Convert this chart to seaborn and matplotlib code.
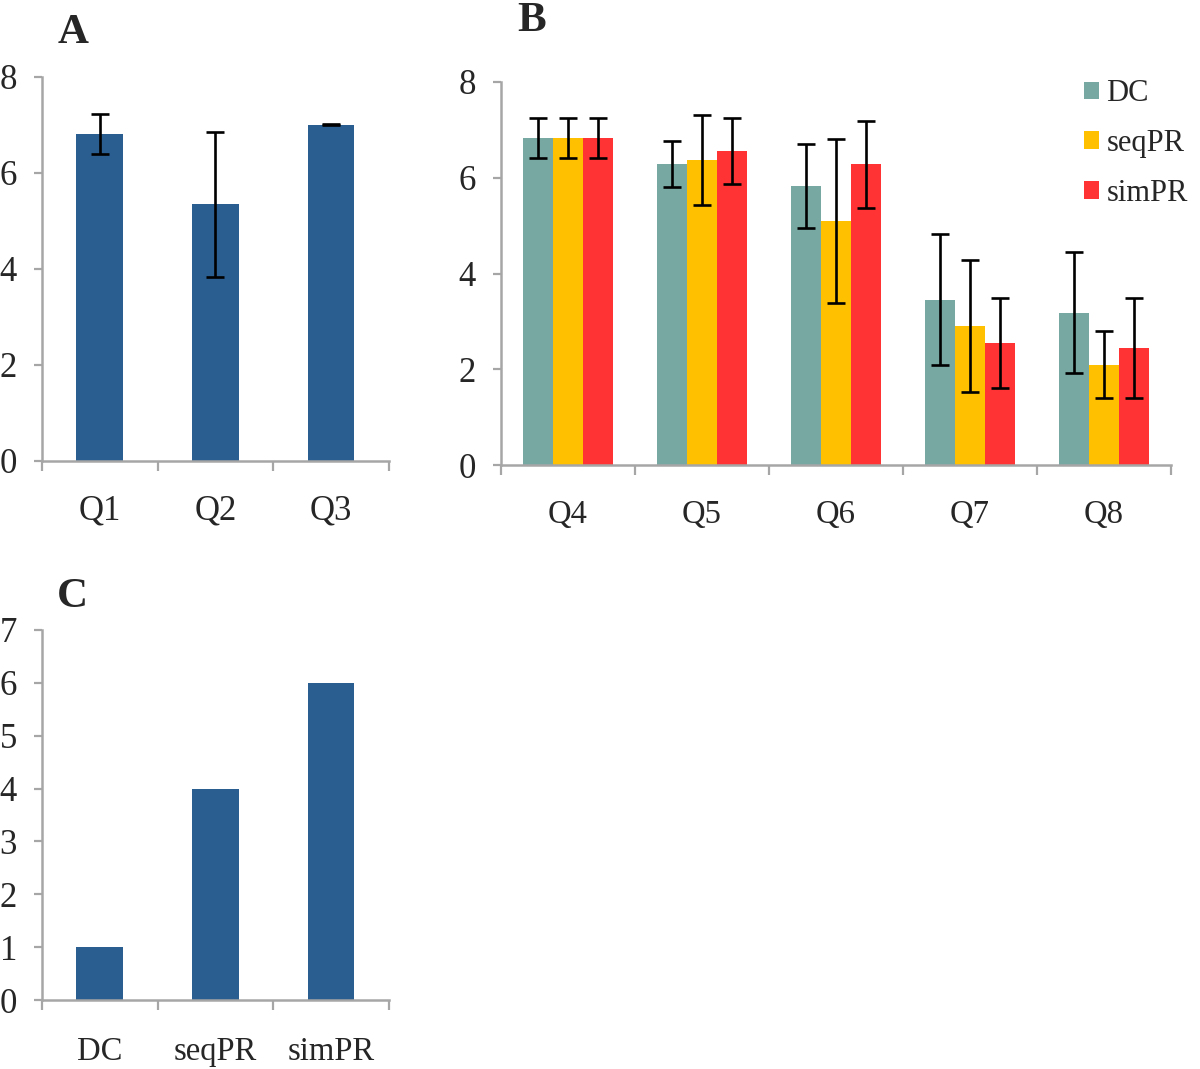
import numpy as np
import pandas as pd
import matplotlib
matplotlib.use("Agg")
import matplotlib.pyplot as plt
from matplotlib.patches import Patch
from matplotlib.ticker import FixedLocator
import seaborn as sns

# panel A
a_cats = ["Q1", "Q2", "Q3"]
a_vals = [6.81, 5.35, 7.0]
a_errs = [0.42, 1.51, 0.01]

# panel B
b_cats = ["Q4", "Q5", "Q6", "Q7", "Q8"]
b_groups = ["DC", "seqPR", "simPR"]
b_dc = [6.83, 6.28, 5.82, 3.45, 3.18]
b_seq = [6.83, 6.37, 5.09, 2.91, 2.09]
b_sim = [6.83, 6.55, 6.28, 2.54, 2.45]
b_dc_err = [0.41, 0.48, 0.88, 1.37, 1.26]
b_seq_err = [0.41, 0.94, 1.71, 1.38, 0.70]
b_sim_err = [0.41, 0.69, 0.91, 0.94, 1.04]

# panel C
c_cats = ["DC", "seqPR", "simPR"]
c_vals = [1, 4, 6]

blue = "#2A5E91"
b_colors = ["#77A8A2", "#FFC000", "#FF3333"]
gray = "#A6A6A6"

sns.set_style("white")
plt.rcParams["font.family"] = ["Liberation Serif", "DejaVu Serif"]

fig = plt.figure(figsize=(12, 10.69), dpi=100)
axA = fig.add_axes([0.035, 0.5688, 0.289, 0.3592])
axB = fig.add_axes([0.4175, 0.565, 0.5583, 0.3583])
axC = fig.add_axes([0.035, 0.0645, 0.289, 0.3462])


def style_axis(ax, n, ymax, step, xfs, yfs=25, xpad=24):
    ax.set_xlim(-0.5, n - 0.5)
    ax.set_ylim(0, ymax)
    ax.set_yticks(np.arange(0, ymax + 0.01, step))
    ax.xaxis.set_minor_locator(FixedLocator(np.arange(-0.5, n, 1.0)))
    ax.tick_params(axis="x", which="major", length=0, pad=xpad, labelsize=xfs)
    ax.tick_params(axis="x", which="minor", length=7.5, width=1.6,
                   color=gray, direction="out", bottom=True)
    ax.tick_params(axis="y", length=6, width=1.6, color=gray,
                   direction="out", pad=12, labelsize=yfs, left=True)
    for s in ["top", "right"]:
        ax.spines[s].set_visible(False)
    for s in ["left", "bottom"]:
        ax.spines[s].set_color(gray)
        ax.spines[s].set_linewidth(1.8)
    ax.set_xlabel("")
    ax.set_ylabel("")


def add_errors(ax, container, errs):
    xs = [p.get_x() + p.get_width() / 2 for p in container]
    ys = [p.get_height() for p in container]
    ax.errorbar(xs, ys, yerr=errs, fmt="none", ecolor="black",
                elinewidth=1.9, capsize=6.5, capthick=1.9, zorder=5)


# A
dfA = pd.DataFrame({"q": a_cats, "v": a_vals})
sns.barplot(data=dfA, x="q", y="v", color=blue, saturation=1, width=0.405,
            errorbar=None, linewidth=0, ax=axA)
add_errors(axA, axA.containers[0], a_errs)
style_axis(axA, len(a_cats), 8, 2, xfs=25)

# B
dfB = pd.DataFrame({
    "q": b_cats * 3,
    "g": [g for g in b_groups for _ in b_cats],
    "v": b_dc + b_seq + b_sim,
})
sns.barplot(data=dfB, x="q", y="v", hue="g", hue_order=b_groups,
            palette=b_colors, saturation=1, width=0.665, errorbar=None,
            linewidth=0, legend=False, ax=axB)
for cont, errs in zip(axB.containers, [b_dc_err, b_seq_err, b_sim_err]):
    add_errors(axB, cont, errs)
style_axis(axB, len(b_cats), 8, 2, xfs=23.5, xpad=25)
handles = [Patch(facecolor=c, edgecolor="none", label=g)
           for c, g in zip(b_colors, b_groups)]
fig.legend(handles=handles, loc="upper left", bbox_to_anchor=(0.903, 0.926),
           frameon=False, fontsize=22, handlelength=0.5, handleheight=0.5,
           handletextpad=0.25, labelspacing=0.68, borderpad=0, borderaxespad=0)

# C
dfC = pd.DataFrame({"m": c_cats, "v": c_vals})
sns.barplot(data=dfC, x="m", y="v", color=blue, saturation=1, width=0.405,
            errorbar=None, linewidth=0, ax=axC)
style_axis(axC, len(c_cats), 7, 1, xfs=23.5, xpad=26)

# panel letters
lf = 31
fig.text(73 / 1200, 1 - 33 / 1069, "A", fontsize=lf, fontweight="bold",
         ha="center", va="center")
fig.text(532 / 1200, 1 - 21 / 1069, "B", fontsize=lf, fontweight="bold",
         ha="center", va="center")
fig.text(72 / 1200, 1 - 597 / 1069, "C", fontsize=lf, fontweight="bold",
         ha="center", va="center")

fig.savefig("out.png", dpi=100)
